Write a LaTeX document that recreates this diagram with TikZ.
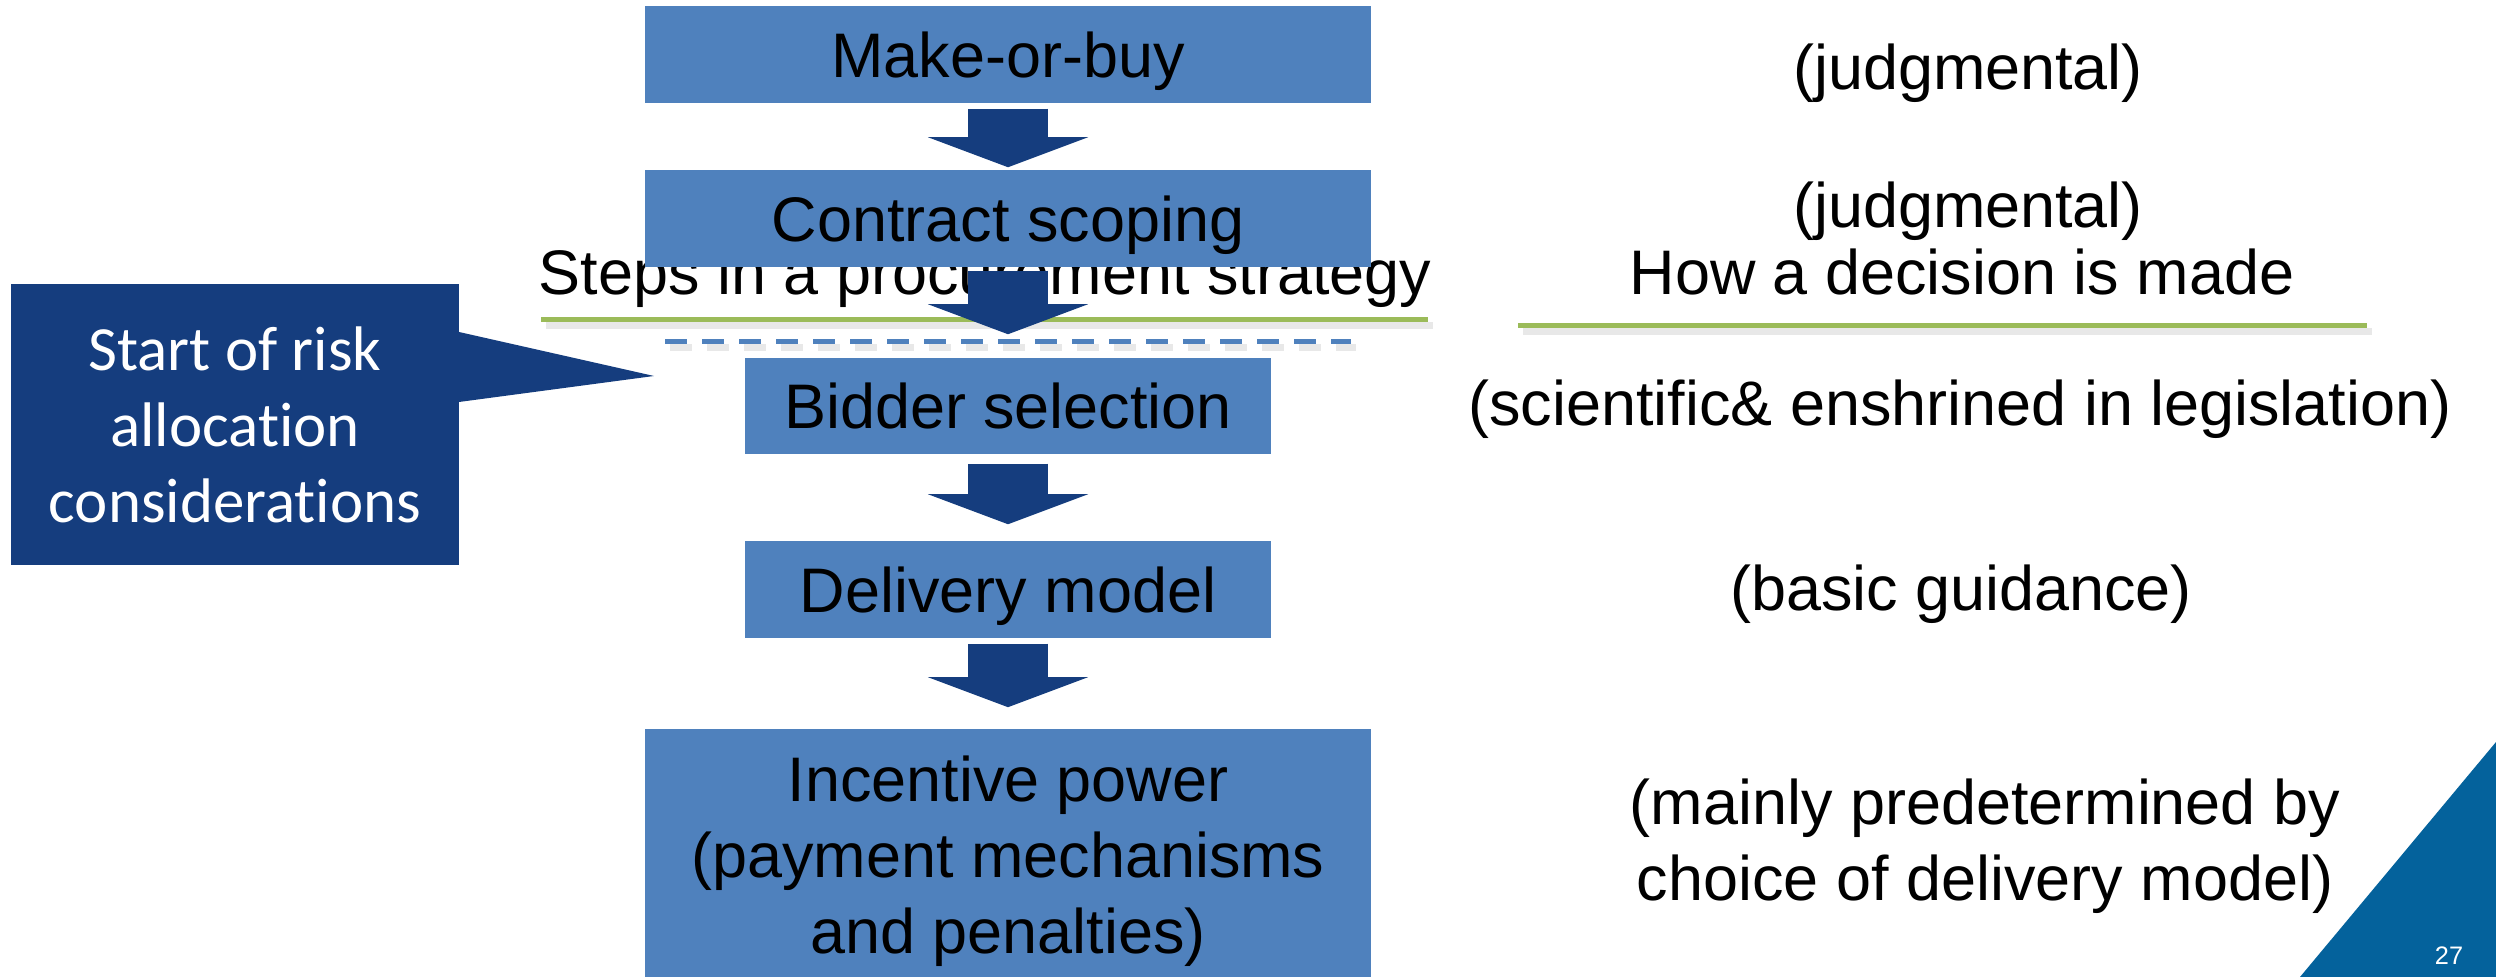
\documentclass[tikz,border=0pt]{standalone}
\usepackage{fontspec}
\setmainfont{Liberation Sans}
\newfontfamily\calibri[Ligatures=NoCommon]{Carlito}
\usepackage{tikz}
\usetikzlibrary{arrows.meta}
\definecolor{boxblue}{HTML}{4F81BD}
\definecolor{darkblue}{HTML}{153D7E}
\definecolor{linegreen}{HTML}{9BBB59}
\definecolor{pageblue}{HTML}{04629C}
\newcommand{\bigtext}{\fontsize{17.9pt}{21.6pt}\selectfont}

\begin{document}
\begin{tikzpicture}[x=0.01cm, y=-0.01cm,
	stepbox/.style={fill=boxblue, inner sep=0pt, text depth=0pt, align=center, font=\bigtext},
	blockarrow/.style={darkblue, line width=0.8cm, -{Triangle[length=0.3cm, width=1.6cm, line width=0pt]}},
	plain/.style={inner sep=0pt, font=\bigtext, anchor=base},
	shade/.style={gray, opacity=0.18, line width=0.07cm}]
		\useasboundingbox (0,0) rectangle (2496,977);
		% column titles, the left one lies under the boxes
		\node[plain] (steps) at (985,295) {Steps in a procurement strategy};
		\node[plain] (how) at (1962,295) {How a decision is made};
		\draw[shade] (546,326) -- (1433,326);
		\draw[linegreen, line width=0.05cm] (541,320) -- (1428,320);
		\draw[shade] (1523,332) -- (2372,332);
		\draw[linegreen, line width=0.05cm] (1518,326) -- (2367,326);
		\draw[shade, dash pattern=on 0.22cm off 0.15cm] (670,348) -- (1356,348);
		\draw[boxblue, line width=0.05cm, dash pattern=on 0.22cm off 0.15cm] (665,342) -- (1351,342);
		% steps
		\node[stepbox, minimum width=7.26cm, minimum height=0.97cm] (mob) at (1008,54.5) {Make-or-buy};
		\node[stepbox, minimum width=7.26cm, minimum height=0.97cm] (scope) at (1008,218.5) {Contract scoping};
		\node[stepbox, minimum width=5.25cm, minimum height=0.96cm] (bidder) at (1008,406) {Bidder selection};
		\node[stepbox, minimum width=5.25cm, minimum height=0.97cm] (delivery) at (1008,589.5) {Delivery model};
		\node[stepbox, minimum width=7.26cm, minimum height=2.51cm] (incentive) at (1008,854.5) {Incentive power\\(payment mechanisms\\and penalties)};
		\draw[blockarrow, shorten <=0.05cm, shorten >=0.02cm] (mob) -- (scope);
		\draw[blockarrow, shorten <=0.03cm, shorten >=0.23cm] (scope) -- (bidder);
		\draw[blockarrow, shorten <=0.09cm, shorten >=0.16cm] (bidder) -- (delivery);
		\draw[blockarrow, shorten <=0.05cm, shorten >=0.21cm] (delivery) -- (incentive);
		% callout
		\node[fill=darkblue, minimum width=4.48cm, minimum height=2.81cm, inner sep=0pt, text depth=0pt, align=center, text=white, font=\calibri\bigtext] (risk) at (235,424.5) {Start of risk\\allocation\\considerations};
		\fill[darkblue] (459,332) -- (654,376) -- (459,402) -- cycle;
		% how each decision is made
		\node[plain] (judge1) at (1968,90) {(judgmental)};
		\node[plain] (judge2) at (1968,228) {(judgmental)};
		\node[plain] (science) at (1960,426) {(scientific\& enshrined in legislation)};
		\node[plain] (basic) at (1961,611) {(basic guidance)};
		\node[inner sep=0pt, font=\bigtext, align=center, text depth=0pt, anchor=south] (mainly) at (1985,901) {(mainly predetermined by\\choice of delivery model)};
		% page corner
		\fill[pageblue] (2496,742) -- (2496,977) -- (2300,977) -- cycle;
		\node[text=white, font=\fontsize{7.2pt}{8pt}\selectfont] (page) at (2449,956) {27};
	\end{tikzpicture}
\end{document}
